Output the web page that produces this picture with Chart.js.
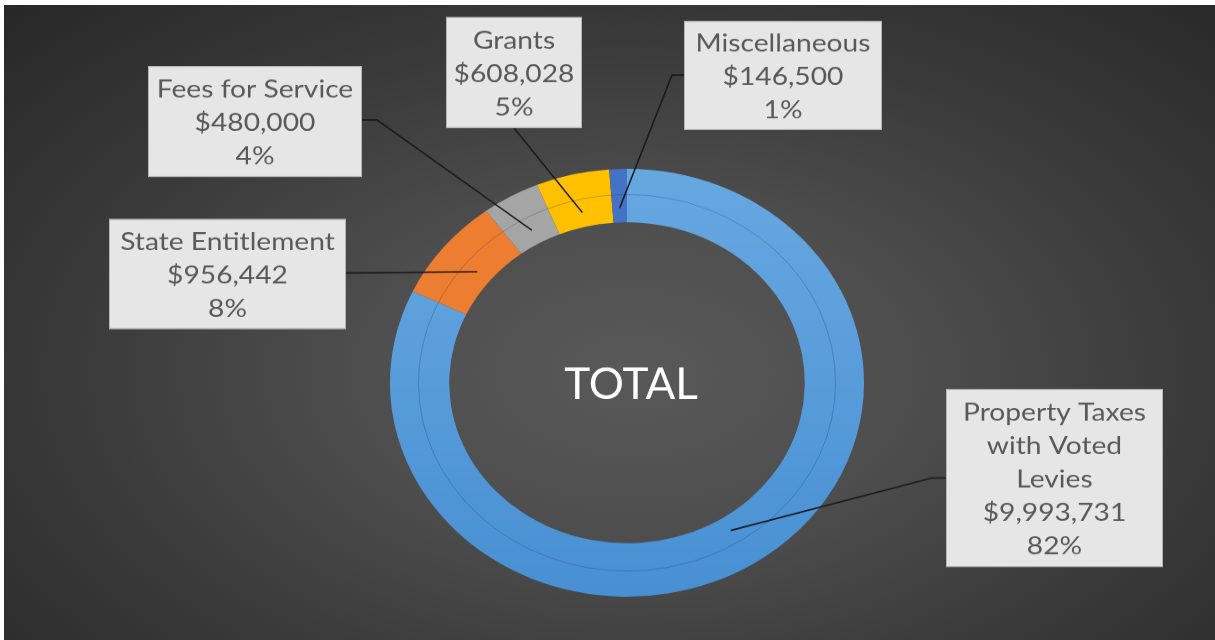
<!DOCTYPE html>
<html>
<head>
<meta charset="utf-8">
<script src="https://cdn.jsdelivr.net/npm/chart.js@4.4.1/dist/chart.umd.min.js"></script>
<style>
  html, body { margin: 0; padding: 0; background: #ffffff; width: 1215px; height: 640px; overflow: hidden; }
  #bg { position: absolute; left: 4px; top: 5px; width: 1211px; height: 635px;
        background: radial-gradient(ellipse 75% 85% at 52% 58%, #595959 0%, #4e4e4e 30%, #3a3a3a 62%, #262626 100%); }
  #c { position: absolute; left: 0; top: 0; }
</style>
</head>
<body>
<div id="bg"></div>
<canvas id="c" width="1215" height="709" style="width:1215px;height:640px;"></canvas>
<script>
// ---- data ----
const categories = [
  ['Property Taxes', 'with Voted', 'Levies'],
  ['State Entitlement'],
  ['Fees for Service'],
  ['Grants'],
  ['Miscellaneous']
];
const values = [9993731, 956442, 480000, 608028, 146500];
const centerTitle = 'TOTAL';

// ---- styles / layout ----
const colors = ['#5b9bd5', '#ed7d31', '#a5a5a5', '#ffc000', '#4472c4'];
const boxes = [
  { x: 946, y: 389, w: 217, h: 178, path: [[946, 478], [932, 478]] },
  { x: 109, y: 219, w: 237, h: 110, path: [[346, 273]] },
  { x: 148, y: 66,  w: 214, h: 111, path: [[362, 120], [377, 120]] },
  { x: 446, y: 17,  w: 136, h: 111, path: [[514, 128]] },
  { x: 684, y: 21,  w: 198, h: 109, path: [[684, 75], [672, 75]] }
];
const SY = 709 / 640;   // vertical stretch of canvas vs display
const TX = 1.15;        // horizontal stretch of label text

const total = values.reduce((a, b) => a + b, 0);
const fmt = v => '$' + v.toLocaleString('en-US');

const overlay = {
  id: 'overlay',
  afterDatasetsDraw(chart) {
    const ctx = chart.ctx;
    const meta = chart.getDatasetMeta(0);
    const a0 = meta.data[0];
    ctx.save();
    ctx.beginPath();
    ctx.arc(a0.x, a0.y, a0.innerRadius + (a0.outerRadius - a0.innerRadius) * 0.52, 0, Math.PI * 2);
    ctx.strokeStyle = 'rgba(20,40,80,0.25)';
    ctx.lineWidth = 1;
    ctx.stroke();
    ctx.restore();
  },
  afterDraw(chart) {
    const ctx = chart.ctx;
    const meta = chart.getDatasetMeta(0);
    ctx.save();
    ctx.setTransform(1, 0, 0, SY, 0, 0);
    const a0 = meta.data[0];
    ctx.fillStyle = '#ffffff';
    ctx.font = '44px Lato';
    ctx.textAlign = 'center';
    ctx.textBaseline = 'middle';
    ctx.fillText(centerTitle, a0.x + 4, a0.y / SY + 2);

    meta.data.forEach((arc, i) => {
      const b = boxes[i];
      const mid = (arc.startAngle + arc.endAngle) / 2;
      const r = arc.innerRadius + (arc.outerRadius - arc.innerRadius) * 0.27;
      const px = arc.x + Math.cos(mid) * r;
      const py = (arc.y + Math.sin(mid) * r) / SY;
      ctx.beginPath();
      ctx.moveTo(b.path[0][0], b.path[0][1]);
      for (let k = 1; k < b.path.length; k++) ctx.lineTo(b.path[k][0], b.path[k][1]);
      ctx.lineTo(px, py);
      ctx.strokeStyle = '#1a1a1a';
      ctx.lineWidth = 1.5;
      ctx.stroke();
      ctx.fillStyle = '#e7e6e6';
      ctx.fillRect(b.x, b.y, b.w, b.h);
      ctx.strokeStyle = 'rgba(175,175,175,0.9)';
      ctx.lineWidth = 1;
      ctx.strokeRect(b.x + 0.5, b.y + 0.5, b.w - 1, b.h - 1);
      const lines = categories[i].concat([fmt(values[i]), Math.round(values[i] / total * 100) + '%']);
      ctx.fillStyle = '#595959';
      ctx.font = '24.5px Lato';
      ctx.textAlign = 'center';
      ctx.textBaseline = 'middle';
      const lh = 33.5;
      const top = b.y + (b.h - lines.length * lh) / 2;
      lines.forEach((t, k) => {
        ctx.save();
        ctx.translate(b.x + b.w / 2, top + lh * (k + 0.5) + 1.5);
        ctx.scale(TX, 1);
        ctx.fillText(t, 0, 0);
        ctx.restore();
      });
    });
    ctx.restore();
  }
};

new Chart(document.getElementById('c'), {
  type: 'doughnut',
  data: {
    labels: categories,
    datasets: [{
      data: values,
      backgroundColor: (c) => {
        const i = c.dataIndex;
        if (i === 0 && c.chart.chartArea) {
          const ca = c.chart.chartArea;
          const g = c.chart.ctx.createLinearGradient(0, ca.top, 0, ca.bottom);
          g.addColorStop(0, '#68a8e1');
          g.addColorStop(1, '#4890d3');
          return g;
        }
        return colors[i];
      },
      borderWidth: 0,
      hoverOffset: 0
    }]
  },
  options: {
    responsive: false,
    devicePixelRatio: 1,
    animation: false,
    cutout: '75%',
    layout: { padding: { left: 39, right: 0, top: 187, bottom: 48 } },
    plugins: { legend: { display: false }, tooltip: { enabled: false } },
    events: []
  },
  plugins: [overlay]
});
</script>
</body>
</html>
